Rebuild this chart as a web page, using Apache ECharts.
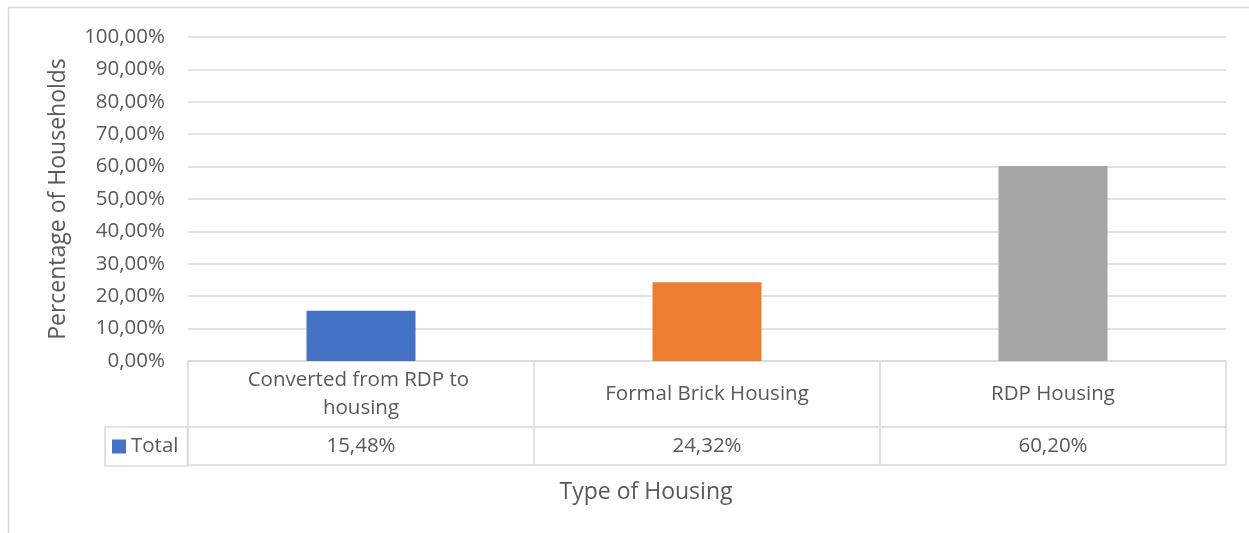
<!DOCTYPE html>
<html>
<head>
<meta charset="utf-8">
<script src="https://cdn.jsdelivr.net/npm/echarts@6/dist/echarts.min.js"></script>
<style>
html,body{margin:0;padding:0;background:#fff;}
#c{width:1249px;height:533px;}
</style>
</head>
<body>
<div id="c"></div>
<script>
const categories = ['Converted from RDP to housing', 'Formal Brick Housing', 'RDP Housing'];
const seriesName = 'Total';
const values = [15.48, 24.32, 60.20];
const barColors = ['#4472C4', '#ED7D31', '#A5A5A5'];
const yTicks = { min: 0, max: 100, interval: 10 };
const yTitle = 'Percentage of Households';
const xTitle = 'Type of Housing';

const fmt = v => Number(v).toFixed(2).replace('.', ',') + '%';
const txt = '#595959';
const line = '#D9D9D9';
const font = 'Open Sans';

const chart = echarts.init(document.getElementById('c'));
chart.setOption({
  animation: false,
  textStyle: { fontFamily: font, color: txt },
  graphic: [{
    type: 'rect', silent: true,
    shape: { x: 8.5, y: 7.5, width: 1400, height: 700 },
    style: { fill: 'none', stroke: line, lineWidth: 1.5 }
  }],
  grid: { left: 188, right: 23, top: 37, bottom: 172 },
  legend: {
    data: [seriesName],
    left: 105, top: 427,
    orient: 'horizontal',
    borderColor: line, borderWidth: 1.5,
    padding: [9, 9, 9, 7],
    itemWidth: 14, itemHeight: 14, itemGap: 5,
    icon: 'rect',
    textStyle: { fontFamily: font, fontSize: 20.5, color: txt }
  },
  xAxis: [
    {
      type: 'category', data: categories, position: 'bottom',
      axisLine: { show: true, lineStyle: { color: line, width: 1.5 } },
      axisTick: { show: true, length: 104, alignWithLabel: false, lineStyle: { color: line, width: 1.5 } },
      axisLabel: {
        color: txt, fontFamily: font, fontSize: 20.5, margin: 33,
        verticalAlign: 'middle', width: 250, overflow: 'break', lineHeight: 28, interval: 0
      }
    },
    {
      type: 'category', data: categories, position: 'bottom', offset: 66,
      axisLine: { show: true, lineStyle: { color: line, width: 1.5 } },
      axisTick: { show: false },
      axisLabel: {
        color: txt, fontFamily: font, fontSize: 20.5, margin: 19, verticalAlign: 'middle', interval: 0,
        formatter: (v, i) => fmt(values[i])
      }
    },
    {
      type: 'category', data: categories, position: 'bottom', offset: 104,
      axisLine: { show: true, lineStyle: { color: line, width: 1.5 } },
      axisTick: { show: false },
      axisLabel: { show: false },
      name: xTitle, nameLocation: 'middle', nameGap: 16,
      nameTextStyle: { color: txt, fontFamily: font, fontSize: 23, padding: [0, 122, 0, 0] }
    }
  ],
  yAxis: {
    type: 'value', min: yTicks.min, max: yTicks.max, interval: yTicks.interval,
    axisLine: { show: false }, axisTick: { show: false },
    splitLine: { lineStyle: { color: line, width: 1.5 } },
    axisLabel: { color: txt, fontFamily: font, fontSize: 20.5, margin: 23, formatter: v => fmt(v) },
    name: yTitle, nameLocation: 'middle', nameGap: 118, nameRotate: 90,
    nameTextStyle: { color: txt, fontFamily: font, fontSize: 23 }
  },
  series: [{
    name: seriesName, type: 'bar', xAxisIndex: 0, barWidth: '31.5%',
    itemStyle: { color: barColors[0] },
    data: values.map((v, i) => ({ value: v, itemStyle: { color: barColors[i] } }))
  }]
});
</script>
</body>
</html>
